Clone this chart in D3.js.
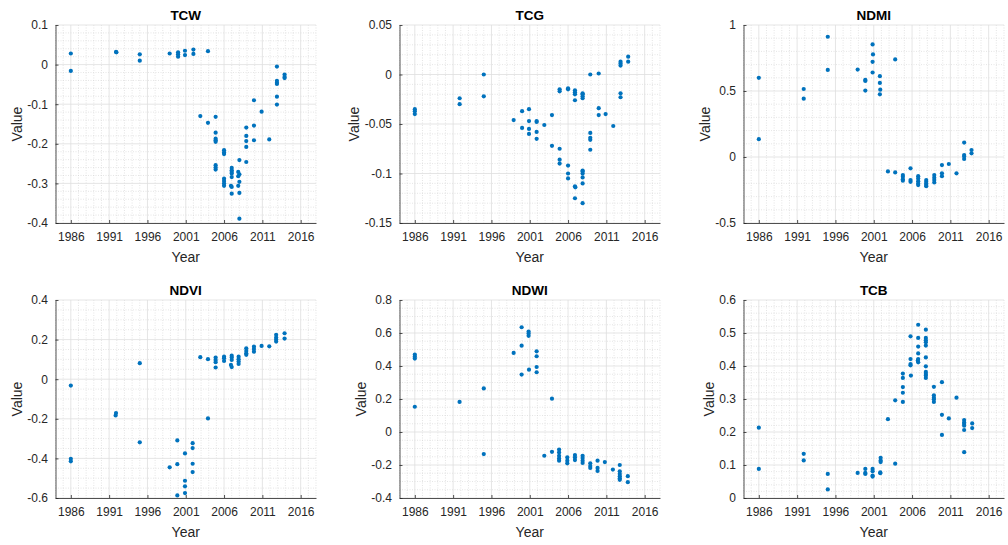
<!DOCTYPE html>
<html>
<head>
<meta charset="utf-8">
<script src="https://cdn.jsdelivr.net/npm/d3@7"></script>
<style>
  html, body { margin: 0; padding: 0; background: #fff; }
  svg { display: block; font-family: "Liberation Sans", Arial, Helvetica, sans-serif; }
</style>
</head>
<body>
<svg id="chart" width="1008" height="545"></svg>
<script>
// ---------------- DATA ----------------
const xTickLabels = [1986, 1991, 1996, 2001, 2006, 2011, 2016];
const xDomain = [1984, 2018];

const tcwYears = [1986,1986,1991.9,1991.95,1995,1995,1998.9,2000,2000,2000,2000.9,2000.9,2002,2002,2003.9,
  2002.9,2003.9,2004.9,2004.9,2004.9,2004.9,2004.9,2004.9,2004.9,2004.9,
  2006,2006,2006,2006,2006,2006,2006,
  2007,2007,2007,2007,2007,2006.9,2007,2007,
  2008,2007.85,2008,2007.85,2008,2007.85,2008,2008,
  2008.9,2008.9,2008.9,2008.9,2008.9,
  2009.9,2009.9,2009.9,2010.9,2011.9,
  2012.9,2012.9,2012.9,2012.9,2012.9,2012.9,2013.9,2013.9,2013.9];
const tcwValues = [0.028,-0.016,0.032,0.031,0.026,0.010,0.028,0.031,0.026,0.020,0.035,0.024,0.038,0.027,0.034,
  -0.130,-0.147,-0.132,-0.172,-0.187,-0.191,-0.195,-0.254,-0.260,-0.265,
  -0.216,-0.222,-0.226,-0.288,-0.294,-0.300,-0.306,
  -0.261,-0.267,-0.271,-0.275,-0.284,-0.306,-0.309,-0.326,
  -0.241,-0.271,-0.277,-0.282,-0.296,-0.306,-0.324,-0.389,
  -0.159,-0.180,-0.193,-0.208,-0.246,
  -0.090,-0.154,-0.191,-0.119,-0.189,
  -0.005,-0.041,-0.046,-0.049,-0.081,-0.101,-0.025,-0.031,-0.034];

const tcgYears = [1986,1986,1986,1991.85,1991.85,1995,1995,1998.9,2000,2000,
  2000.9,2000.9,2000.9,2000.9,2001.9,2001.9,2001.9,2001.9,2002.9,2003.9,2003.9,
  2004.9,2004.9,2004.9,2004.9,2004.9,2006,2006,2006,2006,2006,
  2006.9,2006.9,2006.9,2006.9,2006.9,2006.95,2006.9,
  2007.9,2007.9,2007.9,2007.9,2007.9,2007.9,2007.9,2007.9,2007.9,2007.9,
  2008.9,2008.9,2008.9,2008.9,2008.9,2010,2010,2010,2010.9,2011.9,
  2012.85,2012.85,2012.85,2012.85,2012.85,2013.85,2013.85];
const tcgValues = [-0.035,-0.037,-0.040,-0.024,-0.030,0.000,-0.022,-0.046,-0.037,-0.054,
  -0.035,-0.047,-0.055,-0.060,-0.047,-0.048,-0.058,-0.065,-0.051,-0.041,-0.072,
  -0.015,-0.017,-0.075,-0.086,-0.090,-0.014,-0.015,-0.092,-0.100,-0.105,
  -0.016,-0.018,-0.020,-0.026,-0.113,-0.114,-0.125,
  -0.019,-0.020,-0.022,-0.024,-0.097,-0.098,-0.100,-0.104,-0.110,-0.130,
  0.000,-0.059,-0.064,-0.066,-0.076,0.001,-0.034,-0.041,-0.040,-0.052,
  0.013,0.011,0.009,-0.019,-0.023,0.018,0.013];

const ndmiYears = [1986,1986,1991.86,1991.86,1995,1995,1998.9,1999.9,1999.9,1999.9,
  2000.85,2000.9,2000.85,2000.85,2001.8,2001.8,2001.85,2001.8,2002.85,2003.8,2003.8,
  2004.8,2004.8,2004.8,2004.8,2005.8,2005.8,2005.8,
  2006.8,2006.8,2006.8,2006.8,2006.8,2007.85,2007.85,2007.85,2007.85,2007.85,
  2008.9,2008.9,2008.9,2008.9,2009.9,2009.9,2009.9,2010.8,2011.8,
  2012.8,2012.8,2012.8,2012.8,2013.76,2013.76];
const ndmiValues = [0.600,0.135,0.515,0.442,0.911,0.660,0.662,0.584,0.576,0.503,
  0.853,0.777,0.721,0.640,0.612,0.561,0.510,0.475,-0.109,0.739,-0.117,
  -0.137,-0.150,-0.168,-0.180,-0.086,-0.175,-0.188,
  -0.145,-0.162,-0.183,-0.200,-0.213,-0.175,-0.188,-0.201,-0.213,-0.221,
  -0.137,-0.157,-0.175,-0.193,-0.061,-0.124,-0.145,-0.053,-0.124,
  0.109,0.015,0.003,-0.015,0.053,0.028];

const ndviYears = [1986,1986,1986,1991.9,1991.85,1995,1995,1998.9,1999.9,1999.9,1999.9,
  2000.9,2000.9,2000.9,2000.9,2001.9,2001.9,2001.9,2001.9,2002.9,2003.9,2003.9,
  2004.9,2004.9,2004.9,2004.9,2006,2006,2006,2007,2007,2007,2006.9,2007,
  2007.9,2007.9,2007.9,2007.9,2008.9,2008.9,2008.9,2008.9,2009.9,2009.9,2009.9,
  2010.9,2011.9,2012.8,2012.8,2012.8,2012.8,2013.9,2013.9];
const ndviValues = [-0.032,-0.402,-0.415,-0.171,-0.183,0.081,-0.319,-0.445,-0.309,-0.429,-0.587,
  -0.375,-0.513,-0.541,-0.575,-0.323,-0.348,-0.427,-0.469,0.111,0.101,-0.198,
  0.109,0.097,0.086,0.059,0.114,0.106,0.092,0.119,0.109,0.097,0.072,0.061,
  0.114,0.101,0.089,0.077,0.156,0.143,0.131,0.123,0.165,0.153,0.139,
  0.168,0.166,0.224,0.210,0.200,0.190,0.232,0.205];

const ndwiYears = [1986,1986,1986,1986,1991.84,1995,1995,1998.9,1999.94,1999.94,1999.94,
  2000.85,2000.85,2000.85,2000.9,2001.9,2001.9,2001.9,2001.9,2002.9,2003.9,2003.9,
  2004.83,2004.83,2004.83,2004.83,2004.83,2005.9,2005.9,2005.9,2006.9,2006.9,2006.9,
  2007.9,2007.9,2007.9,2007.9,2008.9,2008.9,2008.9,2009.85,2009.85,2009.85,2010.8,2011.85,
  2012.75,2012.75,2012.75,2012.75,2012.75,2012.75,2013.8,2013.8];
const ndwiValues = [0.469,0.457,0.445,0.153,0.182,0.264,-0.134,0.479,0.635,0.523,0.348,
  0.609,0.597,0.583,0.378,0.489,0.459,0.394,0.362,-0.144,0.202,-0.120,
  -0.106,-0.124,-0.144,-0.160,-0.174,-0.154,-0.174,-0.190,-0.140,-0.154,-0.170,
  -0.144,-0.158,-0.174,-0.188,-0.190,-0.206,-0.218,-0.174,-0.218,-0.236,-0.182,-0.228,
  -0.200,-0.238,-0.254,-0.268,-0.280,-0.290,-0.268,-0.304];

const tcbYears = [1986,1986,1991.86,1991.86,1995,1995,1998.9,1999.9,1999.9,1999.9,
  2000.85,2000.85,2000.85,2000.85,2001.9,2001.9,2001.9,2001.85,2001.85,2002.85,2003.8,2003.8,
  2004.8,2004.8,2004.8,2004.8,2004.8,2005.8,2005.8,2005.8,2005.8,2005.85,
  2006.8,2006.8,2006.8,2006.8,2006.8,2006.75,2006.8,
  2007.8,2007.8,2007.8,2007.8,2007.8,2007.8,2007.8,2007.8,2007.8,2007.8,2007.8,
  2008.85,2008.85,2008.85,2008.85,2008.85,2009.9,2009.9,2009.9,2010.8,2011.8,
  2012.8,2012.8,2012.8,2012.8,2012.8,2012.8,2013.85,2013.85];
const tcbValues = [0.213,0.088,0.134,0.114,0.073,0.026,0.076,0.088,0.076,0.073,
  0.088,0.081,0.068,0.065,0.122,0.114,0.109,0.078,0.075,0.239,0.296,0.104,
  0.377,0.364,0.336,0.319,0.291,0.490,0.421,0.406,0.402,0.371,
  0.525,0.485,0.459,0.438,0.421,0.417,0.411,
  0.510,0.485,0.478,0.472,0.462,0.426,0.399,0.382,0.376,0.371,0.364,
  0.337,0.311,0.304,0.299,0.291,0.351,0.252,0.191,0.241,0.304,
  0.236,0.229,0.224,0.219,0.206,0.139,0.226,0.212];

const panelTitles = ["TCW", "TCG", "NDMI", "NDVI", "NDWI", "TCB"];
const panelYears = [tcwYears, tcgYears, ndmiYears, ndviYears, ndwiYears, tcbYears];
const panelValues = [tcwValues, tcgValues, ndmiValues, ndviValues, ndwiValues, tcbValues];
const yDomains = [[-0.4, 0.1], [-0.15, 0.05], [-0.5, 1], [-0.6, 0.4], [-0.4, 0.8], [0, 0.6]];
const yTickSteps = [0.1, 0.05, 0.5, 0.2, 0.2, 0.1];
const yMinorDivs = [5, 5, 5, 4, 4, 5];

// ---------------- LAYOUT ----------------
const colX = [55.5, 399.5, 743.5];
const rowY = [25, 300];
const plotW = 260.5, plotH = 198;
const dotColor = "#0072BD";
const axisColor = "#262626";

const svg = d3.select("#chart");

function fmt(v) {
  const r = Math.round(v * 1000) / 1000;
  if (Math.abs(r) < 1e-9) return "0";
  return String(r);
}

panelTitles.forEach((title, i) => {
  const col = i % 3, row = Math.floor(i / 3);
  const g = svg.append("g").attr("transform", `translate(${colX[col]},${rowY[row]})`);
  const x = d3.scaleLinear().domain(xDomain).range([0, plotW]);
  const y = d3.scaleLinear().domain(yDomains[i]).range([plotH, 0]);

  const [y0, y1] = yDomains[i];
  const step = yTickSteps[i];
  const nMaj = Math.round((y1 - y0) / step);
  const yTicks = d3.range(nMaj + 1).map(k => +(y0 + k * step).toFixed(4));
  const minorStep = step / yMinorDivs[i];
  const nMin = Math.round((y1 - y0) / minorStep);
  const yMinor = d3.range(nMin + 1).map(k => +(y0 + k * minorStep).toFixed(5))
    .filter(v => !yTicks.some(t => Math.abs(t - v) < 1e-6));
  const xMinor = d3.range(xDomain[0], xDomain[1] + 1).filter(v => !xTickLabels.includes(v));

  // minor grid
  g.append("g").selectAll("line").data(xMinor).join("line")
    .attr("x1", d => x(d)).attr("x2", d => x(d)).attr("y1", 0).attr("y2", plotH)
    .attr("stroke", "#d4d4d4").attr("stroke-width", 0.6).attr("stroke-dasharray", "1,1.5");
  g.append("g").selectAll("line").data(yMinor).join("line")
    .attr("y1", d => y(d)).attr("y2", d => y(d)).attr("x1", 0).attr("x2", plotW)
    .attr("stroke", "#d4d4d4").attr("stroke-width", 0.6).attr("stroke-dasharray", "1,1.5");
  // major grid
  g.append("g").selectAll("line").data(xTickLabels).join("line")
    .attr("x1", d => x(d)).attr("x2", d => x(d)).attr("y1", 0).attr("y2", plotH)
    .attr("stroke", "#dedede").attr("stroke-width", 0.8);
  g.append("g").selectAll("line").data(yTicks).join("line")
    .attr("y1", d => y(d)).attr("y2", d => y(d)).attr("x1", 0).attr("x2", plotW)
    .attr("stroke", "#dedede").attr("stroke-width", 0.8);

  // axes
  const xAxis = d3.axisBottom(x).tickValues(xTickLabels).tickFormat(d3.format("d"))
    .tickSizeInner(-3).tickSizeOuter(0).tickPadding(9);
  const yAxis = d3.axisLeft(y).tickValues(yTicks).tickFormat(fmt)
    .tickSizeInner(-3).tickSizeOuter(0).tickPadding(7.5);
  const gx = g.append("g").attr("transform", `translate(0,${plotH})`).call(xAxis);
  const gy = g.append("g").call(yAxis);
  [gx, gy].forEach(a => {
    a.select(".domain").attr("stroke", axisColor).attr("stroke-width", 0.8);
    a.selectAll(".tick line").attr("stroke", axisColor).attr("stroke-width", 0.8);
    a.selectAll(".tick text").attr("fill", axisColor).attr("font-size", 12)
      .attr("font-family", '"Liberation Sans", Arial, sans-serif');
  });

  // points
  const pts = panelYears[i].map((yr, k) => [yr, panelValues[i][k]]);
  g.append("g").selectAll("circle").data(pts).join("circle")
    .attr("cx", d => x(d[0])).attr("cy", d => y(d[1])).attr("r", 2.1)
    .attr("fill", dotColor);

  // title
  g.append("text").attr("x", plotW / 2).attr("y", -5).attr("text-anchor", "middle")
    .attr("font-size", 13.5).attr("font-weight", "bold").attr("fill", "#000").text(title);

  // labels
  let maxW = 0;
  gy.selectAll(".tick text").each(function () { maxW = Math.max(maxW, this.getComputedTextLength()); });
  g.append("text").attr("transform", `translate(${-(maxW + 7.5 + 5.5)},${plotH / 2}) rotate(-90)`)
    .attr("text-anchor", "middle").attr("font-size", 14).attr("fill", axisColor).text("Value");
  g.append("text").attr("x", plotW / 2).attr("y", plotH + 39).attr("text-anchor", "middle")
    .attr("font-size", 14).attr("fill", axisColor).text("Year");
});
</script>
</body>
</html>
